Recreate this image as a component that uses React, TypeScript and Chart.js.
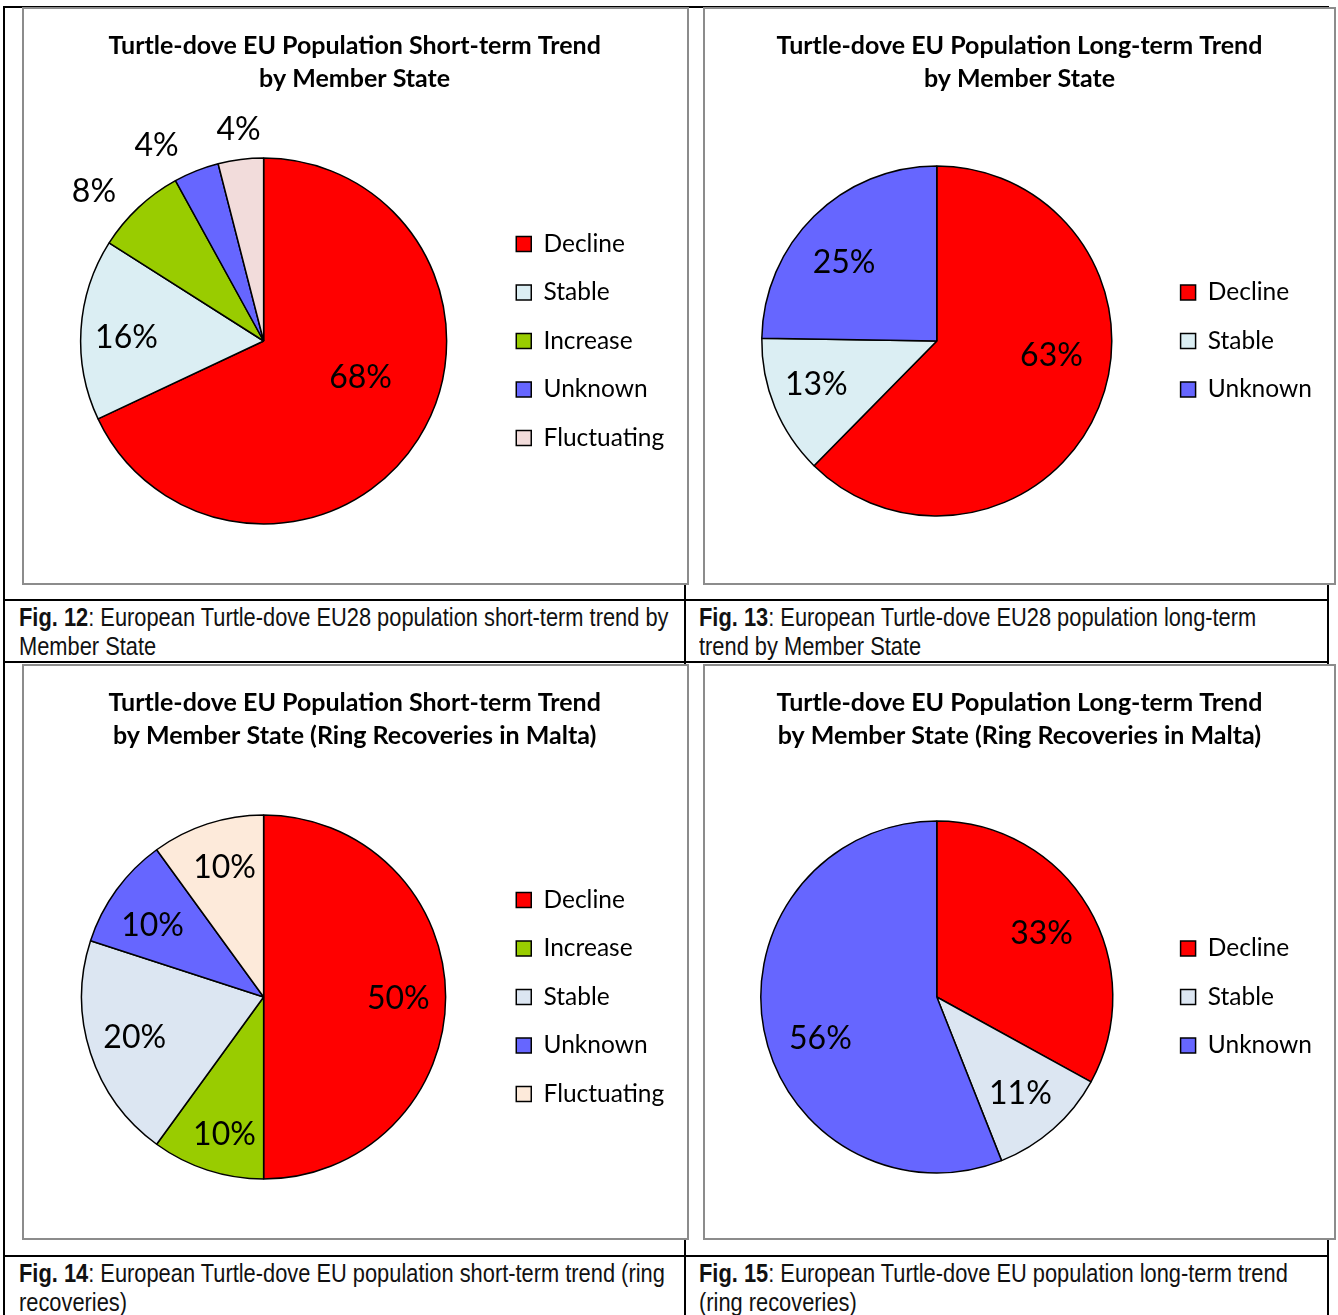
import React, { useEffect, useRef } from 'react';
import { Chart, registerables } from 'chart.js';

Chart.register(...registerables);

// ---------- data ----------
const fig12Title = ['Turtle-dove EU Population Short-term Trend', 'by Member State'];
const fig12Categories = ['Decline', 'Stable', 'Increase', 'Unknown', 'Fluctuating'];
const fig12Values = [68, 16, 8, 4, 4];

const fig13Title = ['Turtle-dove EU Population Long-term Trend', 'by Member State'];
const fig13Categories = ['Decline', 'Stable', 'Unknown'];
const fig13Values = [63, 13, 25];

const fig14Title = ['Turtle-dove EU Population Short-term Trend', 'by Member State (Ring Recoveries in Malta)'];
const fig14Categories = ['Decline', 'Increase', 'Stable', 'Unknown', 'Fluctuating'];
const fig14Values = [50, 10, 20, 10, 10];

const fig15Title = ['Turtle-dove EU Population Long-term Trend', 'by Member State (Ring Recoveries in Malta)'];
const fig15Categories = ['Decline', 'Stable', 'Unknown'];
const fig15Values = [33, 11, 56];

// ---------- styles ----------
const RED = '#FF0000';
const GREEN = '#99CC00';
const BLUE = '#6666FF';
const CYAN_STABLE = '#DBEEF3';
const GREY_STABLE = '#DCE6F2';
const PINK_FLUCT = '#F2DCDB';
const PEACH_FLUCT = '#FDEADA';

const fig12Colors = [RED, CYAN_STABLE, GREEN, BLUE, PINK_FLUCT];
const fig13Colors = [RED, CYAN_STABLE, BLUE];
const fig14Colors = [RED, GREEN, GREY_STABLE, BLUE, PEACH_FLUCT];
const fig15Colors = [RED, GREY_STABLE, BLUE];

// label placement: [fraction of radius, angle offset in degrees from slice middle]
const fig12Placement: [number, number][] = [[0.563, -12.6], [0.75, -1.5], [1.24, -5.2], [1.225, -6.9], [1.17, 0.5]];
const fig13Placement: [number, number][] = [[0.66, -15.5], [0.73, 2.9], [0.7, -4.6]];
const fig14Placement: [number, number][] = [[0.74, 0], [0.78, -2], [0.74, 1.2], [0.73, -2.7], [0.75, 1.4]];
const fig15Placement: [number, number][] = [[0.7, -1.1], [0.72, 0.1], [0.7, -8.4]];

const FONT = 'Lato, Carlito, Calibri, "Open Sans", sans-serif';

function makeLabelPlugin(placement: [number, number][]) {
  return {
    id: 'pctLabels',
    afterDatasetsDraw(chart: any) {
      const ctx = chart.ctx as CanvasRenderingContext2D;
      const meta = chart.getDatasetMeta(0);
      const values = chart.data.datasets[0].data as number[];
      ctx.save();
      ctx.font = `32px ${FONT}`;
      ctx.fillStyle = '#000';
      ctx.textAlign = 'center';
      ctx.textBaseline = 'middle';
      meta.data.forEach((arc: any, i: number) => {
        const p = arc.getProps(['x', 'y', 'startAngle', 'endAngle', 'outerRadius'], true);
        const [f, d] = placement[i];
        const a = (p.startAngle + p.endAngle) / 2 + (d * Math.PI) / 180;
        ctx.fillText(
          `${values[i]}%`,
          p.x + Math.cos(a) * f * p.outerRadius,
          p.y + Math.sin(a) * f * p.outerRadius + 1.5
        );
      });
      ctx.restore();
    },
  };
}

type PieProps = {
  title: string[];
  labels: string[];
  values: number[];
  colors: string[];
  placement: [number, number][];
  radius: number;
  width: number;
  height: number;
  padding: { left: number; right: number; top: number; bottom: number };
};

function PieChart(props: PieProps) {
  const ref = useRef<HTMLCanvasElement>(null);
  useEffect(() => {
    const chart = new Chart(ref.current as HTMLCanvasElement, {
      type: 'pie',
      data: {
        labels: props.labels,
        datasets: [
          {
            data: props.values,
            backgroundColor: props.colors,
            borderColor: '#000',
            borderWidth: 1.5,
            radius: props.radius,
          } as any,
        ],
      },
      options: {
        responsive: false,
        animation: false,
        layout: { padding: props.padding },
        plugins: {
          title: {
            display: true,
            text: props.title,
            color: '#000',
            font: { family: FONT, size: 25, weight: 'bold', lineHeight: 1.32 },
            padding: { top: 20, bottom: 10 },
          },
          legend: {
            position: 'right',
            title: { display: true, text: ' ', font: { size: 10, lineHeight: 1 }, padding: 43 },
            labels: {
              boxWidth: 15,
              boxHeight: 15,
              padding: 24,
              color: '#000',
              font: { family: FONT, size: 24.5 },
            },
          },
          tooltip: { enabled: false },
        },
      } as any,
      plugins: [makeLabelPlugin(props.placement)],
    });
    return () => chart.destroy();
  }, []);
  return <canvas ref={ref} width={props.width} height={props.height} style={{ display: 'block' }} />;
}

const frameStyle = (left: number, top: number, w: number, h: number): React.CSSProperties => ({
  position: 'absolute',
  left,
  top,
  width: w,
  height: h,
  border: '2px solid #8c8c8c',
  background: '#fff',
  zIndex: 2,
});

const line = (left: number, top: number, w: number, h: number): React.CSSProperties => ({
  position: 'absolute',
  left,
  top,
  width: w,
  height: h,
  background: '#000',
  zIndex: 1,
});

const captionStyle = (left: number, top: number): React.CSSProperties => ({
  position: 'absolute',
  left,
  top,
  fontFamily: '"Liberation Sans", Arial, sans-serif',
  fontSize: 26,
  lineHeight: '29px',
  color: '#111',
  whiteSpace: 'nowrap',
  transform: 'scaleX(0.84)',
  transformOrigin: '0 0',
  zIndex: 3,
});

export default function App() {
  return (
    <div style={{ position: 'absolute', left: 0, top: 0, width: 1338, height: 1315, overflow: 'hidden', background: '#fff' }}>
      {/* table lines */}
      <div style={line(3, 6, 1326, 2)} />
      <div style={line(3, 599, 1326, 2)} />
      <div style={line(3, 661, 1326, 2)} />
      <div style={line(3, 1255, 1326, 2)} />
      <div style={line(3, 6, 2, 1309)} />
      <div style={line(684, 6, 2, 1309)} />
      <div style={line(1327, 6, 2, 1309)} />

      <div style={frameStyle(22, 7, 663, 574)}>
        <PieChart title={fig12Title} labels={fig12Categories} values={fig12Values} colors={fig12Colors}
          placement={fig12Placement} radius={183} width={663} height={574}
          padding={{ left: 11, right: 12.75, top: 0, bottom: 6 }} />
      </div>
      <div style={frameStyle(703, 7, 629, 574)}>
        <PieChart title={fig13Title} labels={fig13Categories} values={fig13Values} colors={fig13Colors}
          placement={fig13Placement} radius={175} width={629} height={574}
          padding={{ left: 12, right: 12.1, top: 0, bottom: 6 }} />
      </div>
      <div style={frameStyle(22, 664, 663, 572)}>
        <PieChart title={fig14Title} labels={fig14Categories} values={fig14Values} colors={fig14Colors}
          placement={fig14Placement} radius={182} width={663} height={572}
          padding={{ left: 11, right: 12.75, top: 0, bottom: 6 }} />
      </div>
      <div style={frameStyle(703, 664, 629, 572)}>
        <PieChart title={fig15Title} labels={fig15Categories} values={fig15Values} colors={fig15Colors}
          placement={fig15Placement} radius={176} width={629} height={572}
          padding={{ left: 12, right: 12.1, top: 0, bottom: 6 }} />
      </div>

      {/* captions */}
      <div style={captionStyle(19, 603)}>
        <div><b>Fig. 12</b>: European Turtle-dove EU28 population short-term trend by</div>
        <div>Member State</div>
      </div>
      <div style={captionStyle(699, 603)}>
        <div><b>Fig. 13</b>: European Turtle-dove EU28 population long-term</div>
        <div>trend by Member State</div>
      </div>
      <div style={captionStyle(19, 1259)}>
        <div><b>Fig. 14</b>: European Turtle-dove EU population short-term trend (ring</div>
        <div>recoveries)</div>
      </div>
      <div style={captionStyle(699, 1259)}>
        <div><b>Fig. 15</b>: European Turtle-dove EU population long-term trend</div>
        <div>(ring recoveries)</div>
      </div>
    </div>
  );
}
